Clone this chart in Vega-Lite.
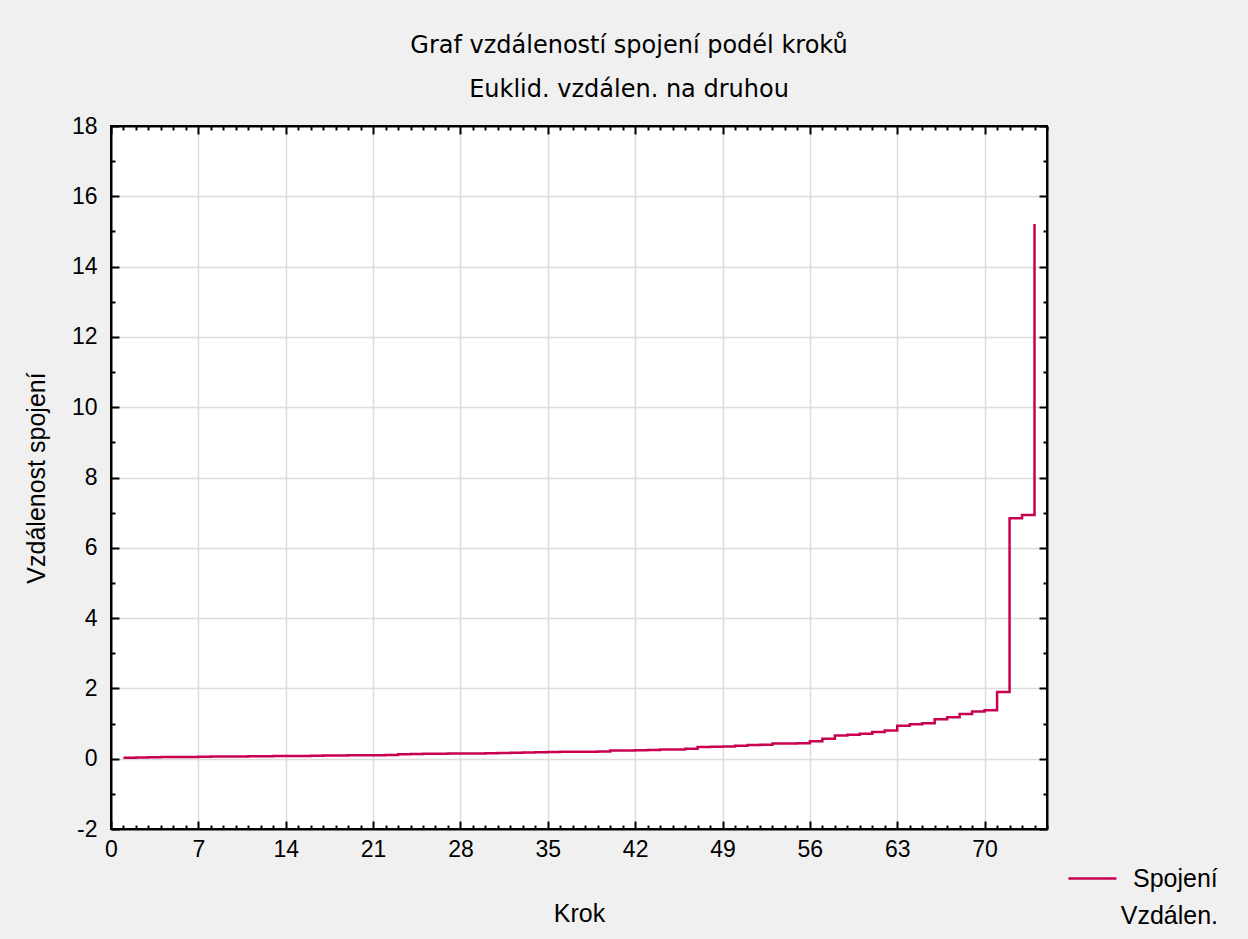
{
  "$schema": "https://vega.github.io/schema/vega-lite/v6.json",
  "width": 936,
  "height": 703,
  "autosize": {"type": "none"},
  "padding": {"left": 111, "top": 126, "right": 201, "bottom": 110},
  "background": "#f0f0f0",
  "config": {
    "font": "Liberation Sans",
    "view": {"fill": "white", "stroke": "black", "strokeWidth": 2}
  },
  "title": {
    "text": ["Graf vzdáleností spojení podél kroků", "Euklid. vzdálen. na druhou"],
    "fontSize": 24,
    "fontWeight": "normal",
    "lineHeight": 44,
    "dx": 50,
    "offset": 13,
    "color": "black",
    "font": "DejaVu Sans"
  },
  "data": {
    "values": [
      {"krok": 1, "vzdalenost": 0.03, "serie": "Spojení"},
      {"krok": 2, "vzdalenost": 0.035, "serie": "Spojení"},
      {"krok": 3, "vzdalenost": 0.04, "serie": "Spojení"},
      {"krok": 4, "vzdalenost": 0.045, "serie": "Spojení"},
      {"krok": 5, "vzdalenost": 0.05, "serie": "Spojení"},
      {"krok": 6, "vzdalenost": 0.05, "serie": "Spojení"},
      {"krok": 7, "vzdalenost": 0.055, "serie": "Spojení"},
      {"krok": 8, "vzdalenost": 0.06, "serie": "Spojení"},
      {"krok": 9, "vzdalenost": 0.06, "serie": "Spojení"},
      {"krok": 10, "vzdalenost": 0.065, "serie": "Spojení"},
      {"krok": 11, "vzdalenost": 0.07, "serie": "Spojení"},
      {"krok": 12, "vzdalenost": 0.07, "serie": "Spojení"},
      {"krok": 13, "vzdalenost": 0.075, "serie": "Spojení"},
      {"krok": 14, "vzdalenost": 0.08, "serie": "Spojení"},
      {"krok": 15, "vzdalenost": 0.08, "serie": "Spojení"},
      {"krok": 16, "vzdalenost": 0.085, "serie": "Spojení"},
      {"krok": 17, "vzdalenost": 0.09, "serie": "Spojení"},
      {"krok": 18, "vzdalenost": 0.09, "serie": "Spojení"},
      {"krok": 19, "vzdalenost": 0.095, "serie": "Spojení"},
      {"krok": 20, "vzdalenost": 0.1, "serie": "Spojení"},
      {"krok": 21, "vzdalenost": 0.1, "serie": "Spojení"},
      {"krok": 22, "vzdalenost": 0.105, "serie": "Spojení"},
      {"krok": 23, "vzdalenost": 0.13, "serie": "Spojení"},
      {"krok": 24, "vzdalenost": 0.135, "serie": "Spojení"},
      {"krok": 25, "vzdalenost": 0.14, "serie": "Spojení"},
      {"krok": 26, "vzdalenost": 0.14, "serie": "Spojení"},
      {"krok": 27, "vzdalenost": 0.145, "serie": "Spojení"},
      {"krok": 28, "vzdalenost": 0.15, "serie": "Spojení"},
      {"krok": 29, "vzdalenost": 0.15, "serie": "Spojení"},
      {"krok": 30, "vzdalenost": 0.155, "serie": "Spojení"},
      {"krok": 31, "vzdalenost": 0.16, "serie": "Spojení"},
      {"krok": 32, "vzdalenost": 0.17, "serie": "Spojení"},
      {"krok": 33, "vzdalenost": 0.175, "serie": "Spojení"},
      {"krok": 34, "vzdalenost": 0.18, "serie": "Spojení"},
      {"krok": 35, "vzdalenost": 0.19, "serie": "Spojení"},
      {"krok": 36, "vzdalenost": 0.195, "serie": "Spojení"},
      {"krok": 37, "vzdalenost": 0.2, "serie": "Spojení"},
      {"krok": 38, "vzdalenost": 0.2, "serie": "Spojení"},
      {"krok": 39, "vzdalenost": 0.205, "serie": "Spojení"},
      {"krok": 40, "vzdalenost": 0.23, "serie": "Spojení"},
      {"krok": 41, "vzdalenost": 0.235, "serie": "Spojení"},
      {"krok": 42, "vzdalenost": 0.24, "serie": "Spojení"},
      {"krok": 43, "vzdalenost": 0.245, "serie": "Spojení"},
      {"krok": 44, "vzdalenost": 0.26, "serie": "Spojení"},
      {"krok": 45, "vzdalenost": 0.265, "serie": "Spojení"},
      {"krok": 46, "vzdalenost": 0.28, "serie": "Spojení"},
      {"krok": 47, "vzdalenost": 0.33, "serie": "Spojení"},
      {"krok": 48, "vzdalenost": 0.34, "serie": "Spojení"},
      {"krok": 49, "vzdalenost": 0.345, "serie": "Spojení"},
      {"krok": 50, "vzdalenost": 0.37, "serie": "Spojení"},
      {"krok": 51, "vzdalenost": 0.39, "serie": "Spojení"},
      {"krok": 52, "vzdalenost": 0.395, "serie": "Spojení"},
      {"krok": 53, "vzdalenost": 0.43, "serie": "Spojení"},
      {"krok": 54, "vzdalenost": 0.435, "serie": "Spojení"},
      {"krok": 55, "vzdalenost": 0.44, "serie": "Spojení"},
      {"krok": 56, "vzdalenost": 0.5, "serie": "Spojení"},
      {"krok": 57, "vzdalenost": 0.57, "serie": "Spojení"},
      {"krok": 58, "vzdalenost": 0.66, "serie": "Spojení"},
      {"krok": 59, "vzdalenost": 0.68, "serie": "Spojení"},
      {"krok": 60, "vzdalenost": 0.71, "serie": "Spojení"},
      {"krok": 61, "vzdalenost": 0.76, "serie": "Spojení"},
      {"krok": 62, "vzdalenost": 0.8, "serie": "Spojení"},
      {"krok": 63, "vzdalenost": 0.94, "serie": "Spojení"},
      {"krok": 64, "vzdalenost": 0.98, "serie": "Spojení"},
      {"krok": 65, "vzdalenost": 1.01, "serie": "Spojení"},
      {"krok": 66, "vzdalenost": 1.12, "serie": "Spojení"},
      {"krok": 67, "vzdalenost": 1.18, "serie": "Spojení"},
      {"krok": 68, "vzdalenost": 1.27, "serie": "Spojení"},
      {"krok": 69, "vzdalenost": 1.34, "serie": "Spojení"},
      {"krok": 70, "vzdalenost": 1.38, "serie": "Spojení"},
      {"krok": 71, "vzdalenost": 1.9, "serie": "Spojení"},
      {"krok": 72, "vzdalenost": 6.84, "serie": "Spojení"},
      {"krok": 73, "vzdalenost": 6.93, "serie": "Spojení"},
      {"krok": 74, "vzdalenost": 15.21, "serie": "Spojení"}
    ]
  },
  "layer": [
    {
      "mark": {"type": "line", "interpolate": "step-after", "strokeWidth": 2.5},
      "encoding": {
        "x": {
          "field": "krok",
          "type": "quantitative",
          "scale": {"domain": [0, 75], "nice": false, "zero": false},
          "axis": {
            "orient": "bottom",
            "values": [0,1,2,3,4,5,6,7,8,9,10,11,12,13,14,15,16,17,18,19,20,21,22,23,24,25,26,27,28,29,30,31,32,33,34,35,36,37,38,39,40,41,42,43,44,45,46,47,48,49,50,51,52,53,54,55,56,57,58,59,60,61,62,63,64,65,66,67,68,69,70,71,72,73,74,75],
            "labelExpr": "datum.value % 7 === 0 && datum.value <= 70 ? '' + datum.value : ''",
            "labelFlush": false,
            "labelOverlap": false,
            "labelBound": false,
            "labelFontSize": 23,
            "labelColor": "black",
            "labelPadding": 17,
            "grid": true,
            "gridColor": "#dcdcdc",
            "gridWidth": 1.5,
            "gridOpacity": {"condition": {"test": "datum.value % 7 === 0 && datum.value > 0 && datum.value <= 70", "value": 1}, "value": 0},
            "ticks": true,
            "tickColor": "black",
            "tickWidth": 2,
            "tickSize": {"condition": {"test": "datum.value % 7 === 0", "value": -8}, "value": -4},
            "domain": true,
            "domainColor": "black",
            "domainWidth": 2,
            "title": "Krok",
            "titleFontSize": 25,
            "titleFontWeight": "normal",
            "titleColor": "black",
            "titlePadding": 36
          }
        },
        "y": {
          "field": "vzdalenost",
          "type": "quantitative",
          "scale": {"domain": [-2, 18], "nice": false, "zero": false},
          "axis": {
            "orient": "left",
            "values": [-2,-1,0,1,2,3,4,5,6,7,8,9,10,11,12,13,14,15,16,17,18],
            "labelExpr": "datum.value % 2 === 0 ? '' + datum.value : ''",
            "labelFlush": false,
            "labelOverlap": false,
            "labelBound": false,
            "labelFontSize": 23,
            "labelColor": "black",
            "labelPadding": 22,
            "grid": true,
            "gridColor": "#dcdcdc",
            "gridWidth": 1.5,
            "gridOpacity": {"condition": {"test": "datum.value % 2 === 0 && datum.value > -2 && datum.value < 18", "value": 1}, "value": 0},
            "ticks": true,
            "tickColor": "black",
            "tickWidth": 2,
            "tickSize": {"condition": {"test": "datum.value % 2 === 0", "value": -8}, "value": -4},
            "domain": true,
            "domainColor": "black",
            "domainWidth": 2,
            "title": "Vzdálenost spojení",
            "titleFontSize": 25,
            "titleFontWeight": "normal",
            "titleColor": "black",
            "titlePadding": 22
          }
        },
        "color": {
          "field": "serie",
          "type": "nominal",
          "scale": {"range": ["#c8004f"]},
          "legend": {
            "orient": "none",
            "legendX": 956,
            "legendY": 727,
            "padding": 0,
            "symbolType": "stroke",
            "symbolSize": 2304,
            "symbolStrokeWidth": 2.5,
            "labelFontSize": 25,
            "labelColor": "black",
            "labelOffset": 15,
            "title": "Vzdálen.",
            "titleOrient": "bottom",
            "titleAnchor": "end",
            "titleFontSize": 25,
            "titleFontWeight": "normal",
            "titleColor": "black",
            "titlePadding": 12
          }
        }
      }
    },
    {
      "mark": {"type": "line", "strokeOpacity": 0},
      "encoding": {
        "x": {
          "field": "krok",
          "type": "quantitative",
          "axis": {
            "orient": "top",
            "values": [0,1,2,3,4,5,6,7,8,9,10,11,12,13,14,15,16,17,18,19,20,21,22,23,24,25,26,27,28,29,30,31,32,33,34,35,36,37,38,39,40,41,42,43,44,45,46,47,48,49,50,51,52,53,54,55,56,57,58,59,60,61,62,63,64,65,66,67,68,69,70,71,72,73,74,75],
            "labels": false,
            "grid": false,
            "ticks": true,
            "tickColor": "black",
            "tickWidth": 2,
            "tickSize": {"condition": {"test": "datum.value % 7 === 0", "value": -8}, "value": -4},
            "domain": true,
            "domainColor": "black",
            "domainWidth": 2,
            "title": null
          }
        },
        "y": {
          "field": "vzdalenost",
          "type": "quantitative",
          "axis": {
            "orient": "right",
            "values": [-2,-1,0,1,2,3,4,5,6,7,8,9,10,11,12,13,14,15,16,17,18],
            "labels": false,
            "grid": false,
            "ticks": true,
            "tickColor": "black",
            "tickWidth": 2,
            "tickSize": {"condition": {"test": "datum.value % 2 === 0", "value": -8}, "value": -4},
            "domain": true,
            "domainColor": "black",
            "domainWidth": 2,
            "title": null
          }
        }
      }
    }
  ],
  "resolve": {"axis": {"x": "independent", "y": "independent"}}
}
